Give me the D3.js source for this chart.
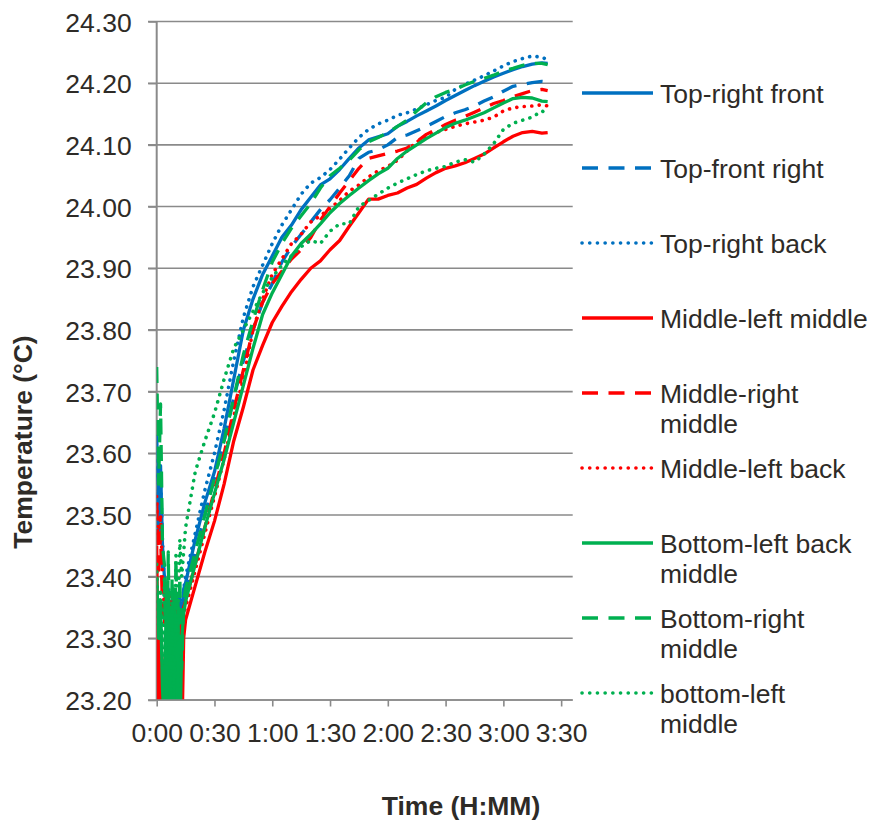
<!DOCTYPE html>
<html><head><meta charset="utf-8">
<script src="https://cdn.jsdelivr.net/npm/d3@7"></script>
<style>body{margin:0;background:#fff}svg{display:block}</style>
</head><body><svg id="c" width="871" height="820"></svg>
<script>
// elapsed time in minutes
const minutes = [0,1,2,3,4,5,6,7,8,9,10,11,12,13,14,
  15,20,25,30,35,40,45,50,55,60,65,70,75,80,85,90,95,100,105,110,115,120,125,130,135,140,145,150,155,160,165,170,175,180,185,190,195,200,203];

const topRightFront = [23.63,23.50,23.58,23.45,23.40,23.33,23.38,23.28,23.36,23.30,23.34,23.27,23.36,23.30,23.38,
  23.39,23.46,23.52,23.57,23.64,23.72,23.80,23.85,23.89,23.92,23.95,23.97,23.995,24.015,24.035,24.045,24.06,24.078,24.095,24.108,24.113,24.118,24.13,24.138,24.147,24.155,24.163,24.172,24.18,24.188,24.196,24.203,24.21,24.216,24.222,24.227,24.231,24.233,24.232];
const topFrontRight = [23.58,23.47,23.55,23.42,23.36,23.30,23.35,23.27,23.33,23.25,23.32,23.29,23.35,23.28,23.36,
  23.37,23.44,23.50,23.56,23.62,23.69,23.75,23.80,23.845,23.875,23.91,23.935,23.955,23.975,23.995,24.011,24.03,24.05,24.078,24.088,24.092,24.10,24.112,24.116,24.123,24.13,24.138,24.146,24.152,24.157,24.163,24.171,24.178,24.187,24.195,24.198,24.201,24.203,24.202];
const topRightBack = [23.60,23.52,23.56,23.46,23.38,23.32,23.37,23.30,23.35,23.27,23.33,23.30,23.37,23.32,23.38,
  23.40,23.47,23.54,23.60,23.67,23.75,23.82,23.87,23.905,23.94,23.97,23.995,24.02,24.038,24.047,24.06,24.077,24.095,24.112,24.125,24.134,24.14,24.148,24.152,24.158,24.165,24.172,24.177,24.19,24.198,24.205,24.212,24.22,24.228,24.235,24.24,24.244,24.242,24.238];
const middleLeftMiddle = [23.45,23.15,23.30,23.10,23.25,23.30,23.22,23.32,23.26,23.35,23.28,23.10,23.25,23.12,23.30,
  23.33,23.385,23.44,23.49,23.55,23.62,23.675,23.735,23.775,23.812,23.838,23.862,23.882,23.90,23.912,23.93,23.945,23.968,23.99,24.012,24.012,24.018,24.022,24.03,24.036,24.046,24.055,24.062,24.066,24.071,24.078,24.085,24.095,24.105,24.114,24.12,24.122,24.119,24.12];
const middleRightMiddle = [23.52,23.40,23.47,23.35,23.32,23.38,23.30,23.36,23.30,23.37,23.32,23.36,23.30,23.34,23.35,
  23.36,23.42,23.48,23.54,23.60,23.67,23.735,23.80,23.845,23.875,23.895,23.915,23.93,23.95,23.978,24.0,24.022,24.042,24.062,24.078,24.082,24.086,24.09,24.095,24.105,24.117,24.125,24.133,24.14,24.146,24.153,24.16,24.167,24.172,24.178,24.183,24.188,24.19,24.188];
const middleLeftBack = [23.53,23.45,23.50,23.40,23.34,23.38,23.31,23.37,23.33,23.38,23.31,23.35,23.29,23.33,23.34,
  23.35,23.41,23.47,23.53,23.59,23.66,23.72,23.80,23.85,23.89,23.915,23.94,23.955,23.975,23.985,23.997,24.01,24.025,24.035,24.048,24.058,24.065,24.075,24.09,24.105,24.113,24.12,24.125,24.13,24.134,24.137,24.14,24.145,24.155,24.16,24.162,24.163,24.165,24.163];
const bottomLeftBackMiddle = [23.40,23.30,23.36,23.22,23.15,23.38,23.12,23.35,23.10,23.38,23.15,23.36,23.12,23.30,23.34,
  23.36,23.42,23.48,23.535,23.59,23.65,23.71,23.77,23.825,23.86,23.89,23.92,23.94,23.955,23.972,23.99,24.005,24.018,24.03,24.042,24.053,24.062,24.078,24.09,24.10,24.11,24.119,24.128,24.135,24.14,24.146,24.152,24.16,24.168,24.175,24.177,24.176,24.171,24.17];
const bottomRightMiddle = [23.74,23.55,23.68,23.45,23.42,23.15,23.44,23.18,23.40,23.20,23.43,23.22,23.40,23.25,23.36,
  23.38,23.44,23.50,23.56,23.62,23.69,23.76,23.815,23.865,23.91,23.94,23.965,23.985,24.005,24.03,24.05,24.062,24.075,24.092,24.105,24.112,24.12,24.13,24.14,24.155,24.168,24.178,24.185,24.19,24.197,24.203,24.208,24.213,24.22,24.224,24.229,24.232,24.232,24.23];
const bottomLeftMiddle = [23.42,23.30,23.38,23.25,23.40,23.18,23.35,23.15,23.38,23.20,23.44,23.30,23.46,23.40,23.44,
  23.48,23.57,23.62,23.665,23.72,23.77,23.80,23.83,23.86,23.885,23.905,23.92,23.935,23.945,23.94,23.96,23.972,23.972,24.0,24.01,24.02,24.03,24.038,24.045,24.052,24.058,24.062,24.065,24.072,24.076,24.072,24.085,24.102,24.125,24.135,24.14,24.145,24.155,24.15];

const seriesNames = ["Top-right front","Top-front right","Top-right back","Middle-left middle",
  ["Middle-right","middle"],"Middle-left back",["Bottom-left back","middle"],["Bottom-right","middle"],["bottom-left","middle"]];
const seriesValues = [topRightFront,topFrontRight,topRightBack,middleLeftMiddle,middleRightMiddle,middleLeftBack,bottomLeftBackMiddle,bottomRightMiddle,bottomLeftMiddle];
const seriesColors = ["#0070C0","#0070C0","#0070C0","#FF0000","#FF0000","#FF0000","#00B050","#00B050","#00B050"];
const seriesStyles = ["solid","dash","dot","solid","dash","dot","solid","dash","dot"];

const yTicks = [23.2,23.3,23.4,23.5,23.6,23.7,23.8,23.9,24.0,24.1,24.2,24.3];
const xTicks = [0,30,60,90,120,150,180,210];
const xTickLabels = ["0:00","0:30","1:00","1:30","2:00","2:30","3:00","3:30"];

const svg = d3.select("#c");
const pLeft = 156.7, pRight = 572.7, pTop = 21.5, pBottom = 700;
const x = d3.scaleLinear().domain([0,216]).range([pLeft,pRight]);
const y = d3.scaleLinear().domain([23.2,24.3]).range([pBottom,pTop]);
const gridColor = "#8a8a8a", textColor = "#2e2b27";
const font = "Liberation Sans, Arial, sans-serif";
const fs = 26.5;

// gridlines
svg.append("g").selectAll("line").data(yTicks).join("line")
  .attr("x1",148).attr("x2",pRight).attr("y1",d=>y(d)).attr("y2",d=>y(d))
  .attr("stroke",gridColor).attr("stroke-width",1.6);

// y axis
const yAxis = svg.append("g").attr("transform",`translate(${pLeft},0)`)
  .call(d3.axisLeft(y).tickValues(yTicks).tickFormat(d3.format(".2f")).tickSizeInner(8.5).tickSizeOuter(0).tickPadding(16.5));
yAxis.select(".domain").remove();
yAxis.selectAll("line").attr("stroke",gridColor).attr("stroke-width",1.6);
yAxis.selectAll("text").attr("font-family",font).attr("font-size",fs).attr("fill",textColor).attr("dy","0.36em");
svg.append("line").attr("x1",pLeft).attr("x2",pLeft).attr("y1",pTop).attr("y2",pBottom)
  .attr("stroke",gridColor).attr("stroke-width",2);

// x axis
const xAxis = svg.append("g").attr("transform",`translate(0,${pBottom})`)
  .call(d3.axisBottom(x).tickValues(xTicks).tickFormat((d,i)=>xTickLabels[i]).tickSizeInner(6.5).tickSizeOuter(0).tickPadding(16.5));
xAxis.select(".domain").remove();
xAxis.selectAll("line").attr("stroke",gridColor).attr("stroke-width",1.6);
xAxis.selectAll("text").attr("font-family",font).attr("font-size",fs).attr("fill",textColor);

// clip
svg.append("clipPath").attr("id","plotclip").append("rect")
  .attr("x",pLeft).attr("y",pTop-4).attr("width",pRight-pLeft).attr("height",pBottom-pTop+4);

const dashFor = s => s==="dash" ? "16,10.5" : s==="dot" ? "0.1,7.4" : null;
const capFor = s => s==="dot" ? "round" : "butt";

const line = d3.line().x((d,i)=>x(minutes[i])).y(d=>y(d));
const gLines = svg.append("g").attr("clip-path","url(#plotclip)");
seriesValues.forEach((vals,k)=>{
  gLines.append("path").attr("d",line(vals)).attr("fill","none")
    .attr("stroke",seriesColors[k]).attr("stroke-width",seriesStyles[k]==="dot"?3.6:3.3)
    .attr("stroke-dasharray",dashFor(seriesStyles[k])).attr("stroke-linecap",capFor(seriesStyles[k]))
    .attr("stroke-linejoin","round");
});
svg.append("line").attr("x1",pLeft).attr("x2",pRight).attr("y1",pBottom).attr("y2",pBottom)
  .attr("stroke",gridColor).attr("stroke-width",1.6);

// legend
const legY = [93,168,243,318,393,468,543,618,693];
const leg = svg.append("g");
seriesNames.forEach((name,k)=>{
  leg.append("line").attr("x1",582).attr("x2",653).attr("y1",legY[k]).attr("y2",legY[k])
    .attr("stroke",seriesColors[k]).attr("stroke-width",3.6)
    .attr("stroke-dasharray",seriesStyles[k]==="dash"?"16,10.5":seriesStyles[k]==="dot"?"0.1,7.6":null)
    .attr("stroke-linecap",capFor(seriesStyles[k]));
  const lines = Array.isArray(name)?name:[name];
  const t = leg.append("text").attr("x",660).attr("y",legY[k]+10)
    .attr("font-family",font).attr("font-size",fs).attr("fill",textColor);
  lines.forEach((l,j)=>t.append("tspan").attr("x",660).attr("dy",j===0?0:30).text(l));
});

// axis titles
svg.append("text").attr("transform","translate(32,442) rotate(-90)").attr("text-anchor","middle")
  .attr("font-family",font).attr("font-size",26.5).attr("font-weight","bold").attr("fill",textColor)
  .text("Temperature (°C)");
svg.append("text").attr("x",461).attr("y",815).attr("text-anchor","middle")
  .attr("font-family",font).attr("font-size",26.5).attr("font-weight","bold").attr("fill",textColor)
  .text("Time (H:MM)");
</script></body></html>
